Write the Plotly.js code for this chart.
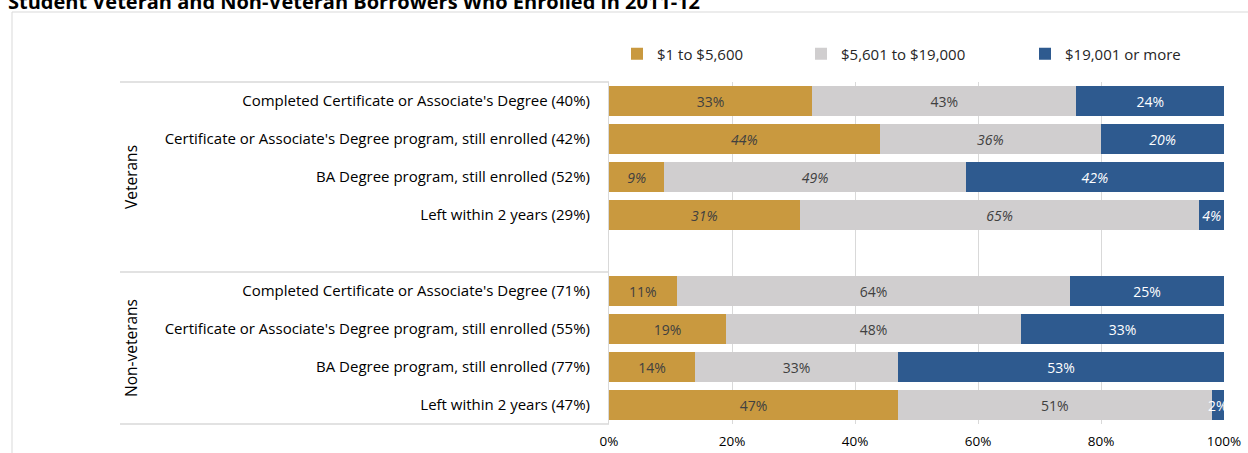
<!DOCTYPE html>
<html>
<head>
<meta charset="utf-8">
<script src="https://cdn.plot.ly/plotly-3.0.1.min.js"></script>
<style>html,body{margin:0;padding:0;background:#fff;}#chart{width:1248px;height:453px;}</style>
</head>
<body>
<div id="chart"></div>
<script>
const chartTitle = "Student Veteran and Non-Veteran Borrowers Who Enrolled in 2011-12";
const groupNames = ["Veterans", "Non-veterans"];
const veteranCategories = [
  "Completed Certificate or Associate's Degree (40%)",
  "Certificate or Associate's Degree program, still enrolled (42%)",
  "BA Degree program, still enrolled (52%)",
  "Left within 2 years (29%)"
];
const nonVeteranCategories = [
  "Completed Certificate or Associate's Degree (71%)",
  "Certificate or Associate's Degree program, still enrolled (55%)",
  "BA Degree program, still enrolled (77%)",
  "Left within 2 years (47%)"
];
const seriesNames = ["$1 to $5,600", "$5,601 to $19,000", "$19,001 or more"];
const lowValues  = [33, 44, 9, 31, 11, 19, 14, 47];
const midValues  = [43, 36, 49, 65, 64, 48, 33, 51];
const highValues = [24, 20, 42, 4, 25, 33, 53, 2];
const xTickValues = [0, 20, 40, 60, 80, 100];

// styling
const italicLabel = [false, true, true, true, false, false, false, false];
const colors = ["#C9993F", "#D0CECF", "#2E5A8F"];
const labelColors = ["#404040", "#404040", "#FFFFFF"];
const FONT = "'Open Sans', 'Noto Sans', sans-serif";

const categories = veteranCategories.concat(nonVeteranCategories);
const categoryOrder = veteranCategories.concat([" "]).concat(nonVeteranCategories);
const seriesValues = [lowValues, midValues, highValues];
const legendIds = ["legend", "legend2", "legend3"];

const traces = seriesValues.map((vals, i) => ({
  type: "bar",
  orientation: "h",
  name: seriesNames[i],
  x: vals,
  y: categories,
  marker: { color: colors[i], line: { width: 0 } },
  text: vals.map(v => v + "%"),
  textposition: "inside",
  insidetextanchor: "middle",
  constraintext: "none",
  textangle: 0,
  textfont: {
    family: FONT,
    size: 14,
    color: vals.map(() => labelColors[i]),
    style: italicLabel.map(it => it ? "italic" : "normal")
  },
  legend: legendIds[i],
  hoverinfo: "skip"
}));

const L = 609, R = 24, T = 82, B = 29;
const W = 1248, H = 453;
const pw = W - L - R, ph = H - T - B;
const px = x => (x - L) / pw;          // pixel -> paper x
const py = y => (H - B - y) / ph;      // pixel -> paper y

const legendFont = { family: FONT, size: 15, color: "#262626" };
const legendCommon = { orientation: "h", font: legendFont, xanchor: "left", yanchor: "middle", bgcolor: "rgba(0,0,0,0)", y: py(54) };

const layout = {
  width: W, height: H,
  margin: { l: L, r: R, t: T, b: B, pad: 0 },
  paper_bgcolor: "#fff",
  plot_bgcolor: "#fff",
  barmode: "stack",
  bargap: 0.21,
  font: { family: FONT, color: "#000" },
  title: {
    text: "<b>" + chartTitle + "</b>",
    font: { family: FONT, size: 20, color: "#000" },
    x: 8 / W, xanchor: "left", xref: "container",
    y: 1 - 9 / H, yanchor: "bottom", yref: "container"
  },
  showlegend: true,
  legend: Object.assign({}, legendCommon, { x: px(617) }),
  legend2: Object.assign({}, legendCommon, { x: px(801) }),
  legend3: Object.assign({}, legendCommon, { x: px(1025) }),
  xaxis: {
    range: [0, 100],
    tickvals: xTickValues,
    ticktext: xTickValues.map(v => v + "%"),
    showgrid: true, gridcolor: "#D9D9D9", gridwidth: 1,
    zeroline: false, showline: false, ticks: "",
    ticklabelstandoff: 7,
    tickfont: { family: FONT, size: 13.5, color: "#000" },
    fixedrange: true
  },
  yaxis: {
    type: "category",
    categoryorder: "array",
    categoryarray: categoryOrder,
    autorange: "reversed",
    showgrid: false, zeroline: false,
    showline: true, linecolor: "#D9D9D9", linewidth: 1,
    ticks: "",
    ticklabelstandoff: 15,
    tickfont: { family: FONT, size: 15, color: "#000" },
    fixedrange: true
  },
  annotations: [
    { text: groupNames[0], xref: "paper", yref: "y", x: px(131), y: 2, textangle: -90,
      showarrow: false, font: { family: FONT, size: 15.5, color: "#000" }, xanchor: "center", yanchor: "middle" },
    { text: groupNames[1], xref: "paper", yref: "y", x: px(131), y: 6.5, textangle: -90,
      showarrow: false, font: { family: FONT, size: 15.5, color: "#000" }, xanchor: "center", yanchor: "middle" }
  ],
  shapes: [
    { type: "line", xref: "paper", yref: "paper", x0: px(120), x1: 0, y0: 1, y1: 1, line: { color: "#D9D9D9", width: 1.5 } },
    { type: "line", xref: "paper", yref: "y", x0: px(120), x1: 0, y0: 4.5, y1: 4.5, line: { color: "#D9D9D9", width: 1.5 } },
    { type: "line", xref: "paper", yref: "paper", x0: px(120), x1: 0, y0: 0, y1: 0, line: { color: "#D9D9D9", width: 1.5 } },
    { type: "path", xref: "paper", yref: "paper",
      path: "M " + px(12) + " " + py(470) + " L " + px(12) + " " + py(12) + " L " + px(1260) + " " + py(12),
      line: { color: "#D9D9D9", width: 1 } }
  ]
};

Plotly.newPlot("chart", traces, layout, { staticPlot: true, displayModeBar: false });
</script>
</body>
</html>
